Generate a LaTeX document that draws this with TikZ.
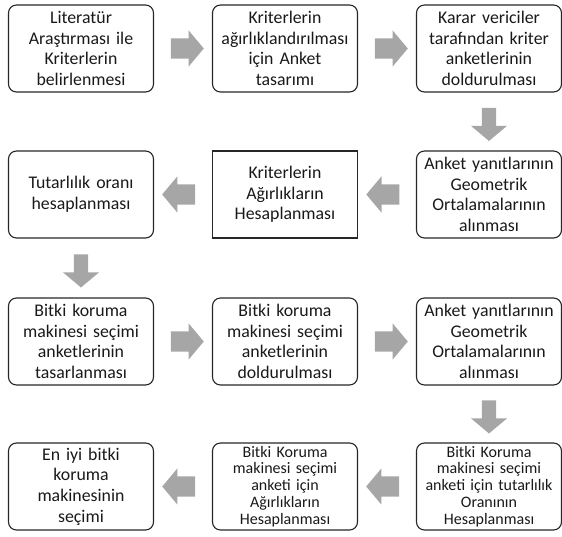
\documentclass[tikz,border=0pt]{standalone}
\usepackage{fontspec}
\setmainfont{Carlito}
\usetikzlibrary{shapes.arrows,calc}

\tikzset{
  stepbox/.style={draw=black!85, line width=1.1pt, rounded corners=8pt, minimum width=145pt, minimum height=87pt,
    text width=142pt, align=center, inner sep=0pt, text=black!90, font=\fontsize{17.8}{20.6}\selectfont},
  sharpbox/.style={stepbox, sharp corners, line width=1.4pt},
  smallbox/.style={stepbox, font=\fontsize{16}{16.8}\selectfont},
  garrow/.style={single arrow, fill=black!35, draw=none, minimum height=33pt, minimum width=36pt,
    single arrow head extend=8pt, single arrow tip angle=100, inner xsep=5pt, inner ysep=10pt}
}

\begin{document}
\begin{tikzpicture}[x=1pt,y=-1pt]
  \useasboundingbox (0,0) rectangle (562,537);
  % first row
  \node[stepbox] (lit) at (81,48.5) {Literatür\\Araştırması ile\\Kriterlerin\\belirlenmesi};
  \node[stepbox] (anktas) at (285,48.5) {Kriterlerin\\ağırlıklandırılması\\için Anket\\tasarımı};
  \node[stepbox] (karar) at (489,48.5) {Karar vericiler\\tarafından kriter\\anketlerinin\\doldurulması};
  % second row
  \node[stepbox] (tutar) at (81,194.5) {Tutarlılık oranı\\hesaplanması};
  \node[sharpbox] (agirlik) at (285,194.5) {Kriterlerin\\Ağırlıkların\\Hesaplanması};
  \node[stepbox] (geo) at (489,194.5) {Anket yanıtlarının\\Geometrik\\Ortalamalarının\\alınması};
  % third row
  \node[stepbox] (bktas) at (81,341.5) {Bitki koruma\\makinesi seçimi\\anketlerinin\\tasarlanması};
  \node[stepbox] (bkdol) at (285,341.5) {Bitki koruma\\makinesi seçimi\\anketlerinin\\doldurulması};
  \node[stepbox] (bkgeo) at (489,341.5) {Anket yanıtlarının\\Geometrik\\Ortalamalarının\\alınması};
  % fourth row
  \node[stepbox] (eniyi) at (81,486.5) {En iyi bitki\\koruma\\makinesinin\\seçimi};
  \node[smallbox] (bkagir) at (285,486.5) {Bitki Koruma\\makinesi seçimi\\anketi için\\Ağırlıkların\\Hesaplanması};
  \node[smallbox] (bktut) at (489,486.5) {Bitki Koruma\\makinesi seçimi\\anketi için tutarlılık\\Oranının\\Hesaplanması};

  % block arrows between the steps
  \node[garrow] (a1) at ($(lit.east)!0.5!(anktas.west)$) {};
  \node[garrow] (a2) at ($(anktas.east)!0.5!(karar.west)$) {};
  \node[garrow, shape border rotate=270] (a3) at ($(karar.south)!0.5!(geo.north)$) {};
  \node[garrow, shape border rotate=180] (a4) at ($(geo.west)!0.5!(agirlik.east)$) {};
  \node[garrow, shape border rotate=180] (a5) at ($(agirlik.west)!0.5!(tutar.east)$) {};
  \node[garrow, shape border rotate=270] (a6) at ($(tutar.south)!0.5!(bktas.north)$) {};
  \node[garrow] (a7) at ($(bktas.east)!0.5!(bkdol.west)$) {};
  \node[garrow] (a8) at ($(bkdol.east)!0.5!(bkgeo.west)$) {};
  \node[garrow, shape border rotate=270] (a9) at ($(bkgeo.south)!0.5!(bktut.north)$) {};
  \node[garrow, shape border rotate=180] (a10) at ($(bktut.west)!0.5!(bkagir.east)$) {};
  \node[garrow, shape border rotate=180] (a11) at ($(bkagir.west)!0.5!(eniyi.east)$) {};
\end{tikzpicture}
\end{document}
